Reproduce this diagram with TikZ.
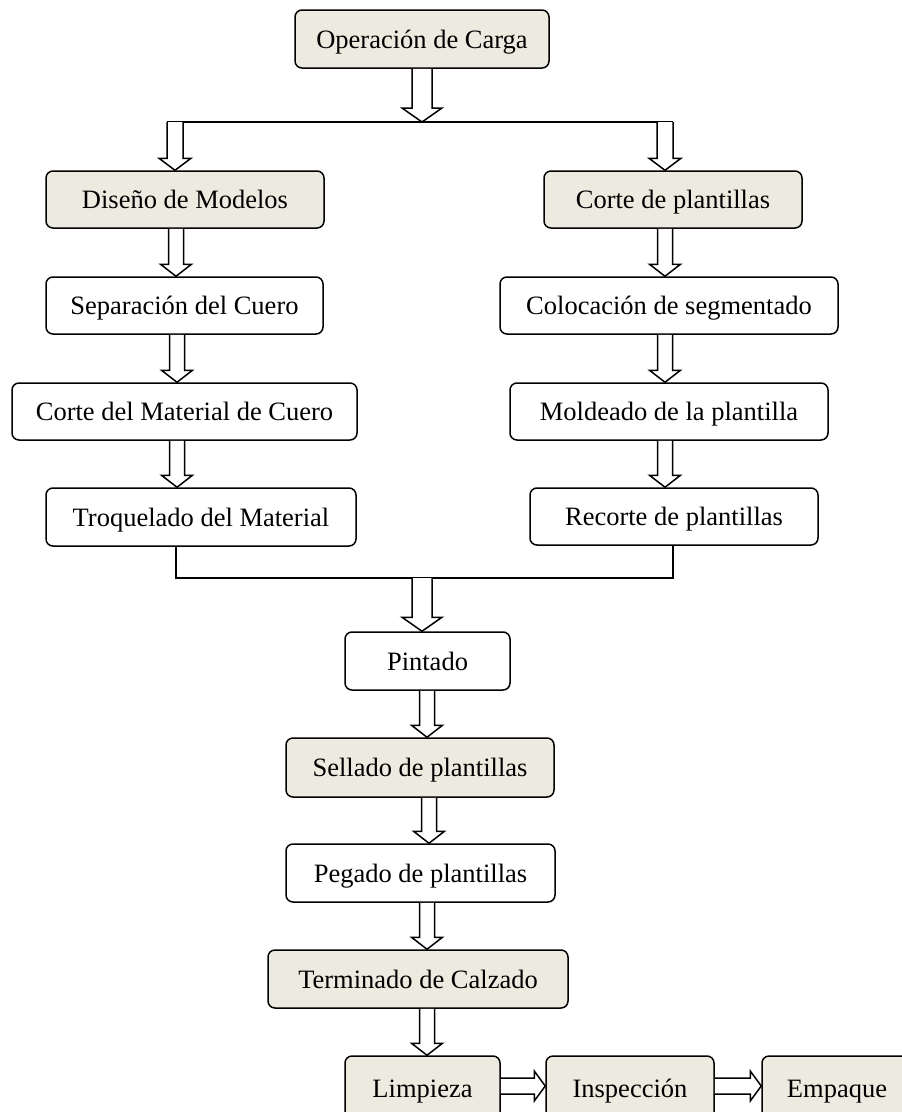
\documentclass[tikz,border=0pt]{standalone}
\usepackage{fontspec}
\setmainfont{Liberation Serif}
\usetikzlibrary{calc}
\definecolor{boxfill}{RGB}{237,234,223}

% vertical block arrow: #1 x, #2 source, #3 target, #4 half shaft, #5 half head, #6 head length
\newcommand\vblk[6]{%
  \draw[blk] let \p1=(#1,0 |- #2), \p2=(#1,0 |- #3) in
    (\x1-#4pt,\y1) -- (\x1-#4pt,\y2+#6pt) -- (\x1-#5pt,\y2+#6pt) -- (\x2,\y2)
    -- (\x1+#5pt,\y2+#6pt) -- (\x1+#4pt,\y2+#6pt) -- (\x1+#4pt,\y1);}
% horizontal block arrow: #1 source, #2 target, #3 half shaft, #4 half head, #5 head length
\newcommand\hblk[5]{%
  \draw[blk] let \p1=(#1), \p2=(#2) in
    (\x1,\y1+#3pt) -- (\x2-#5pt,\y1+#3pt) -- (\x2-#5pt,\y1+#4pt) -- (\x2,\y1)
    -- (\x2-#5pt,\y1-#4pt) -- (\x2-#5pt,\y1-#3pt) -- (\x1,\y1-#3pt);}

\tikzset{
  proc/.style={draw=black, line width=1.5pt, rounded corners=7pt, inner sep=0pt,
    font=\fontsize{26.5}{30}\selectfont, text height=18pt, text depth=0pt},
  procfill/.style={proc, fill=boxfill},
  procwhite/.style={proc, fill=white},
  blk/.style={draw=black, line width=1.5pt, line join=miter, fill=white},
  link/.style={draw=black, line width=1.5pt}
}

\begin{document}
\begin{tikzpicture}[x=1pt,y=-1pt]
\useasboundingbox (0,0) rectangle (902,1112);
\clip (0,0) rectangle (902,1112);

% process boxes
\node[procfill, minimum width=254pt, minimum height=58pt] (op)  at (422,39)    {Operación de Carga};
\node[procfill, minimum width=278pt, minimum height=57pt] (dis) at (185,199.5) {Diseño de Modelos};
\node[procfill, minimum width=258pt, minimum height=57pt] (cpl) at (673,199.5) {Corte de plantillas};
\node[procwhite, minimum width=277pt, minimum height=57pt] (sep) at (184.5,305.5) {Separación del Cuero};
\node[procwhite, minimum width=338pt, minimum height=57pt] (col) at (669,305.5)   {Colocación de segmentado};
\node[procwhite, minimum width=345pt, minimum height=57pt] (cmc) at (184.5,411.5) {Corte del Material de Cuero};
\node[procwhite, minimum width=318pt, minimum height=57pt] (mol) at (669,411.5)   {Moldeado de la plantilla};
\node[procwhite, minimum width=310pt, minimum height=58pt] (tro) at (201,517)     {Troquelado del Material};
\node[procwhite, minimum width=288pt, minimum height=57pt] (rec) at (674,516.5)   {Recorte de plantillas};
\node[procwhite, minimum width=165pt, minimum height=58pt] (pin) at (427.5,661)   {Pintado};
\node[procfill, minimum width=268pt, minimum height=59pt] (sel) at (420,767.5)  {Sellado de plantillas};
\node[procwhite, minimum width=269pt, minimum height=58pt] (peg) at (420.5,873) {Pegado de plantillas};
\node[procfill, minimum width=300pt, minimum height=58pt] (ter) at (418,979)    {Terminado de Calzado};
% last row runs past the lower page edge
\node[procfill, minimum width=155pt, minimum height=64pt] (lim) at (422.5,1088) {Limpieza};
\node[procfill, minimum width=168pt, minimum height=64pt] (ins) at (630,1088)   {Inspección};
\node[procfill, minimum width=150pt, minimum height=64pt] (emp) at (837,1088)   {Empaque};

% split and merge points
\coordinate (split) at (422,122);
\coordinate (merge) at (422,578);

% split bar under the first step
\draw[link] (167,0 |- split) -- (673,0 |- split);
\vblk{422}{op.south}{split}{10}{20}{14}
\vblk{175}{split}{dis.north}{8}{16}{12}
\vblk{665}{split}{cpl.north}{8}{16}{12}

% left branch
\vblk{176}{dis.south}{sep.north}{7.5}{15.5}{12}
\vblk{177}{sep.south}{cmc.north}{7.5}{15.5}{12}
\vblk{177}{cmc.south}{tro.north}{7.5}{15.5}{12}

% right branch
\vblk{665}{cpl.south}{col.north}{7.5}{15.5}{12}
\vblk{665}{col.south}{mol.north}{7.5}{15.5}{12}
\vblk{665}{mol.south}{rec.north}{7.5}{15.5}{12}

% merge bar
\draw[link] (176,0 |- tro.south) -- (176,0 |- merge) -- (673,0 |- merge) -- (673,0 |- rec.south);
\vblk{422}{merge}{pin.north}{10}{20}{14}

% central line
\vblk{427}{pin.south}{sel.north}{7.5}{15.5}{12}
\vblk{429}{sel.south}{peg.north}{7.5}{15.5}{12}
\vblk{427}{peg.south}{ter.north}{7.5}{15.5}{12}
\vblk{427}{ter.south}{lim.north}{7.5}{15.5}{12}

% final row
\hblk{$(lim.east)+(0,-2)$}{ins.west}{8}{15}{11}
\hblk{$(ins.east)+(0,-2)$}{emp.west}{8}{15}{11}
\end{tikzpicture}
\end{document}
